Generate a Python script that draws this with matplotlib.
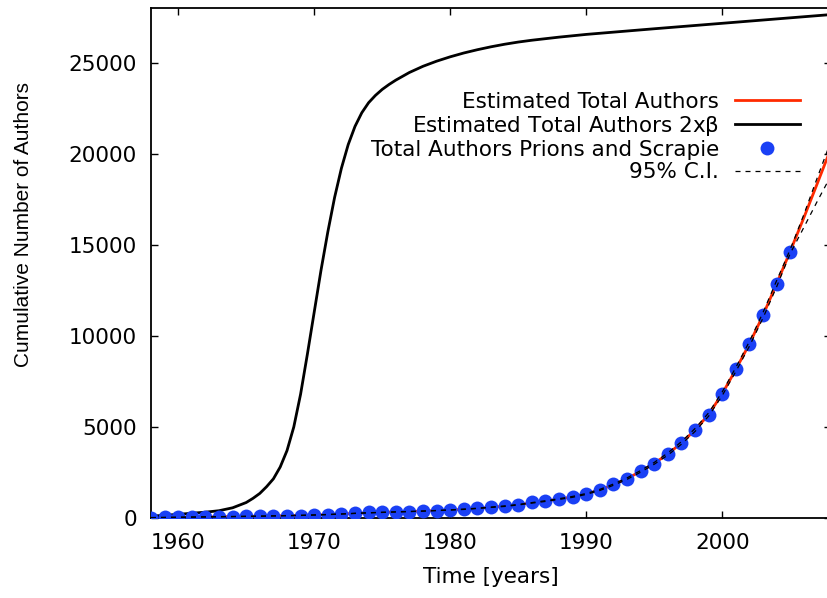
import numpy as np
import matplotlib
matplotlib.use('agg')
import matplotlib.pyplot as plt

plt.rcParams['font.family'] = ['DejaVu Sans']

# yearly cumulative author counts (prions and scrapie)
years = np.arange(1958, 2006)
authors = [20, 30, 40, 50, 60, 70, 75, 85, 95, 105, 120, 135, 150, 190, 235, 290,
           320, 315, 330, 350, 365, 400, 420, 475, 530, 600, 640, 735, 860, 935,
           1030, 1140, 1300, 1560, 1850, 2160, 2570, 2980, 3520, 4120, 4820,
           5680, 6830, 8170, 9580, 11140, 12870, 14600]

# fitted model and its 95% confidence band
fit_years = np.arange(1958, 2009)
fit = [20, 30, 40, 50, 60, 70, 80, 90, 100, 115, 130, 145, 165, 190, 220, 255,
       285, 310, 335, 355, 380, 410, 440, 480, 530, 590, 650, 730, 830, 930,
       1040, 1160, 1320, 1540, 1830, 2160, 2560, 3000, 3510, 4120, 4830, 5680,
       6820, 8150, 9560, 11130, 12860, 14640, 16480, 18380, 20300]
ci_upper = [25, 35, 45, 55, 65, 75, 85, 95, 105, 120, 135, 150, 170, 195, 225,
            260, 290, 315, 340, 360, 385, 415, 445, 490, 540, 600, 665, 745, 845,
            950, 1060, 1185, 1345, 1570, 1865, 2200, 2605, 3050, 3570, 4190, 4910,
            5770, 6920, 8260, 9690, 11280, 13030, 14740, 16650, 18700, 20700]
ci_lower = [15, 25, 35, 45, 55, 65, 75, 85, 95, 110, 125, 140, 160, 185, 215,
            250, 280, 305, 330, 350, 375, 405, 435, 470, 520, 580, 635, 715, 815,
            910, 1020, 1135, 1295, 1510, 1795, 2120, 2515, 2950, 3450, 4050, 4750,
            5590, 6720, 8040, 9430, 10980, 12690, 14520, 15950, 17400, 18800]

# model with doubled beta
beta2_years = [1958, 1960, 1962, 1963, 1964, 1965, 1965.5, 1966, 1966.5, 1967,
               1967.5, 1968, 1968.5, 1969, 1969.5, 1970, 1970.5, 1971, 1971.5,
               1972, 1972.5, 1973, 1973.5, 1974, 1974.5, 1975, 1975.5, 1976,
               1977, 1978, 1979, 1980, 1981, 1982, 1983, 1984, 1985, 1986, 1988,
               1990, 1995, 2000, 2005, 2008]
beta2 = [100, 200, 320, 400, 560, 850, 1080, 1350, 1720, 2150, 2800, 3700, 5000,
         6800, 9000, 11300, 13600, 15700, 17600, 19200, 20500, 21500, 22250,
         22800, 23200, 23530, 23800, 24040, 24460, 24800, 25080, 25320, 25530,
         25710, 25870, 26010, 26130, 26230, 26400, 26550, 26860, 27160, 27460,
         27640]

fs = 15.5
fig = plt.figure(figsize=(8.27, 5.98), dpi=100)
ax = fig.add_axes([151 / 827, 80 / 598, 680 / 827, 510 / 598])

ax.plot(fit_years, fit, color='#ff2a00', lw=2, label='Estimated Total Authors', zorder=2)
ax.plot(beta2_years, beta2, color='black', lw=2,
        label=r'Estimated Total Authors 2x$\mathregular{\beta}$', zorder=2)
ax.plot(years, authors, 'o', color='#1a40f5', ms=10, mew=0,
        label='Total Authors Prions and Scrapie', zorder=3)
ax.plot(fit_years, ci_upper, color='black', lw=0.9, ls=(0, (4, 4)),
        label='95% C.I.', zorder=4)
ax.plot(fit_years, ci_lower, color='black', lw=0.9, ls=(0, (4, 4)), zorder=4)

ax.set_xlim(1958, 2008)
ax.set_ylim(0, 28000)
ax.set_xticks([1960, 1970, 1980, 1990, 2000])
ax.set_yticks([0, 5000, 10000, 15000, 20000, 25000])
ax.tick_params(direction='in', top=True, right=True, length=5, width=1,
               labelsize=fs)
ax.tick_params(axis='x', pad=11)
ax.tick_params(axis='y', pad=10)
for s in ax.spines.values():
    s.set_linewidth(1.3)

ax.set_xlabel('Time [years]', fontsize=fs, labelpad=10)
ax.set_ylabel('Cumulative Number of Authors', fontsize=15,
              family=['Liberation Sans'])
ax.yaxis.set_label_coords(-0.1735, 0.576)

ax.legend(loc='upper right', bbox_to_anchor=(0.954, 0.836), frameon=False,
          markerfirst=False, numpoints=1, fontsize=fs, handlelength=3.0,
          handletextpad=0.75, labelspacing=0.1, borderpad=0, borderaxespad=0)

fig.savefig('out.png', dpi=100)
